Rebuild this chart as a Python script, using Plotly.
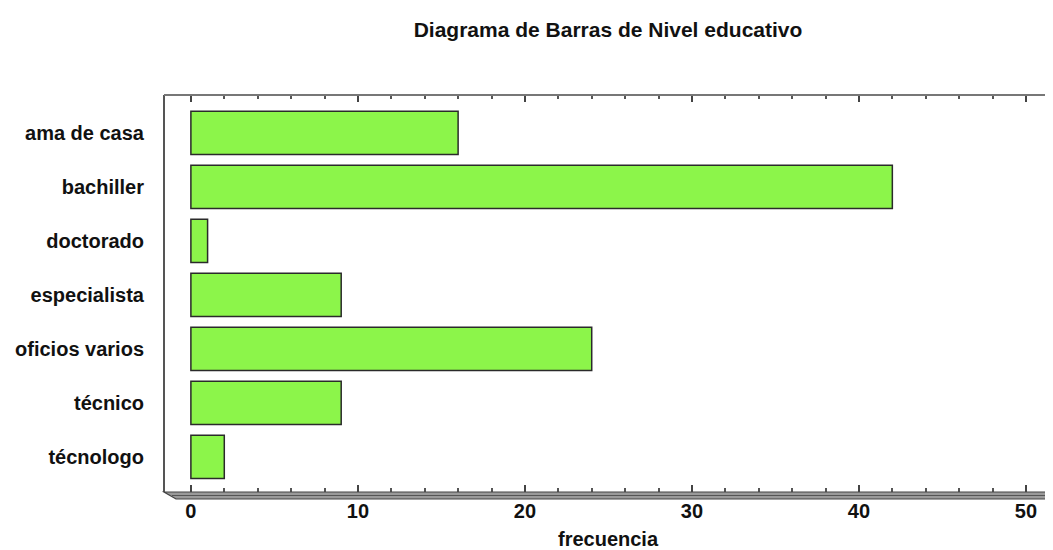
import plotly.graph_objects as go

categories = ["ama de casa", "bachiller", "doctorado", "especialista", "oficios varios", "técnico", "técnologo"]
frecuencia = [16, 42, 1, 9, 24, 9, 2]
x_ticks = [0, 10, 20, 30, 40, 50]

# page body adds an 8px offset; compensate
OFF = 8
W, H = 1053 - OFF, 550 - OFF
L, R, T, B = 165 - OFF, 1051 - OFF, 95 - OFF, 492 - OFF

def px(x):
    return (x - OFF - L) / (R - L)

def py(y):
    return (B - (y - OFF)) / (B - T)

FONT = "Liberation Sans, Arial, sans-serif"
FS = 20

fig = go.Figure(go.Bar(
    y=categories, x=frecuencia, orientation="h",
    marker=dict(color="#8cf54a", line=dict(color="#2a2a2a", width=1.5)),
    width=0.8,
))

shapes = [
    dict(type="line", xref="paper", yref="paper", x0=px(164), x1=px(164), y0=py(492), y1=py(95),
         line=dict(color="#555555", width=2)),
    dict(type="line", xref="paper", yref="paper", x0=px(164), x1=px(1053), y0=py(95), y1=py(95),
         line=dict(color="#777777", width=2)),
    dict(type="line", xref="paper", yref="paper", x0=px(1050), x1=px(1050), y0=py(95), y1=py(492),
         line=dict(color="#aaaaaa", width=1)),
    dict(type="path", xref="paper", yref="paper",
         path=f"M {px(164)},{py(492)} L {px(1053)},{py(492)} L {px(1053)},{py(499)} L {px(176)},{py(499)} Z",
         fillcolor="#9a9a9a", line=dict(color="#444444", width=1.2)),
    dict(type="line", xref="paper", yref="paper", x0=px(172), x1=px(1053), y0=py(495.5), y1=py(495.5),
         line=dict(color="#555555", width=1)),
]

fig.update_layout(
    width=W, height=H,
    margin=dict(l=L, r=W - R, t=T, b=H - B),
    paper_bgcolor="white", plot_bgcolor="white",
    showlegend=False,
    title=dict(text="Diagrama de Barras de Nivel educativo", x=(608 - OFF) / W, xanchor="center",
               y=1 - (30 - OFF) / H, yanchor="middle",
               font=dict(family=FONT, size=21, color="#111111", weight="bold")),
    shapes=shapes,
)

fig.update_xaxes(
    range=[-1.55, 51.5], tickvals=x_ticks, showgrid=False, zeroline=False, showline=False,
    ticks="inside", ticklen=7, tickcolor="#444444", tickwidth=1.5, mirror="ticks",
    minor=dict(dtick=2, tick0=0, ticks="inside", ticklen=4, tickcolor="#555555", showgrid=False),
    tickfont=dict(family=FONT, size=FS, color="#111111", weight="bold"),
    ticklabelstandoff=5,
    title=dict(text="frecuencia", standoff=10, font=dict(family=FONT, size=FS, color="#111111", weight="bold")),
)

fig.update_yaxes(
    categoryorder="array", categoryarray=categories,
    range=[6.65, -0.7], showgrid=False, zeroline=False, showline=False, ticks="",
    tickfont=dict(family=FONT, size=FS, color="#111111", weight="bold"),
    ticklabelstandoff=20,
)

fig.write_html("out.html")
